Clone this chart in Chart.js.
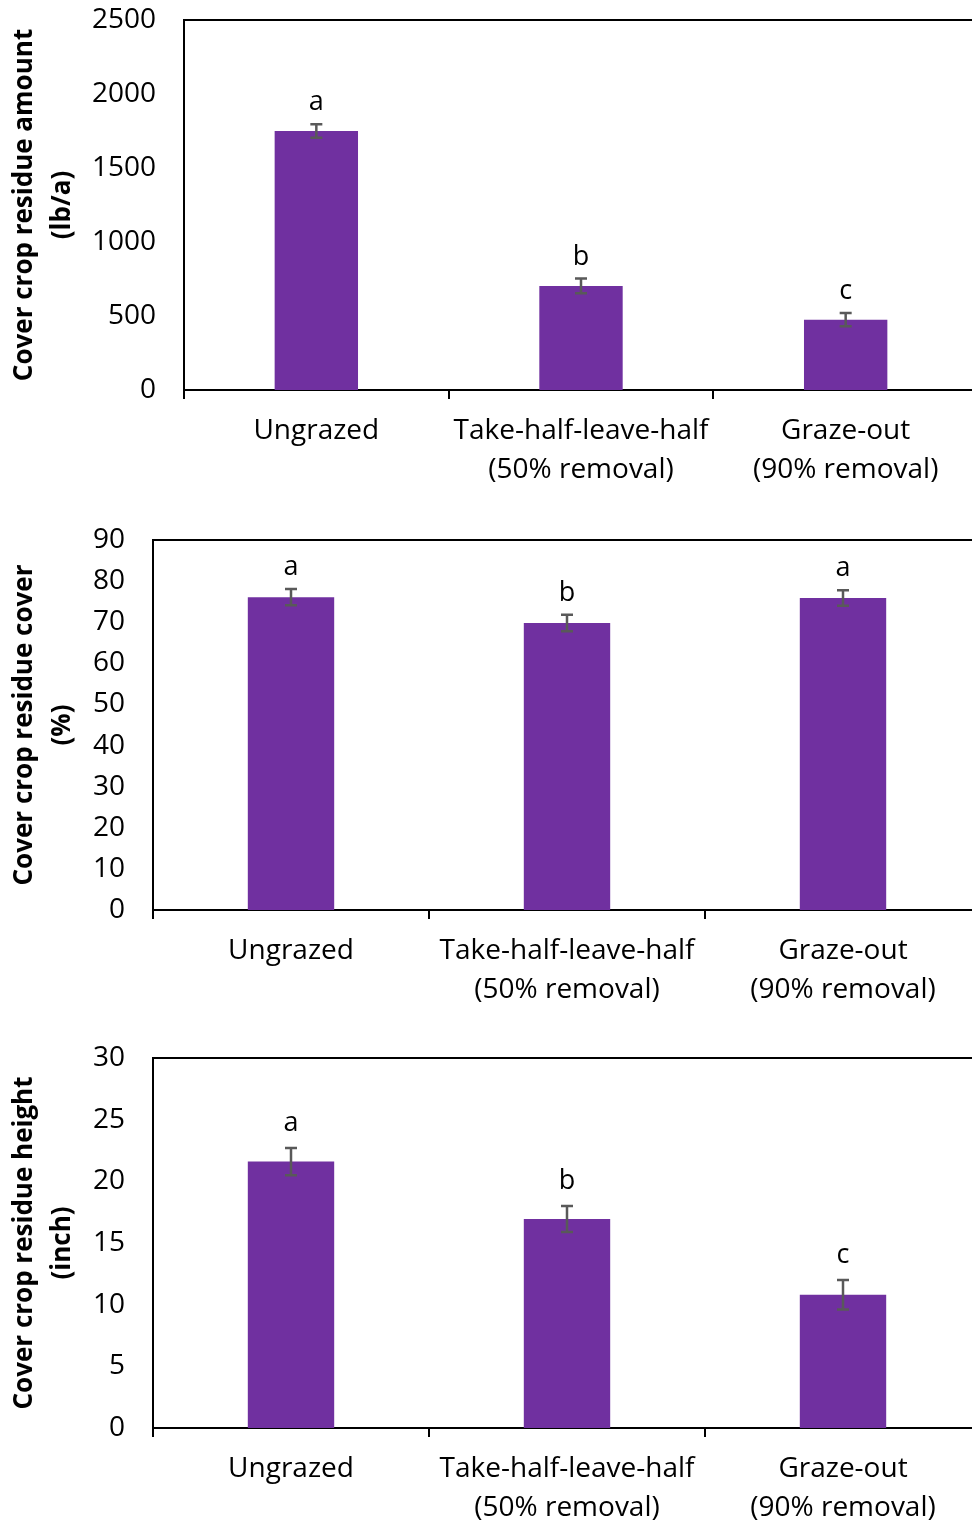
<!DOCTYPE html>
<html><head><meta charset="utf-8">
<script src="https://cdn.jsdelivr.net/npm/chart.js@4/dist/chart.umd.min.js"></script>
<style>
html,body{margin:0;padding:0;background:#fff;overflow:hidden;width:972px;height:1526px;position:relative;}
.box{position:absolute;left:0;width:1000px;}
</style></head><body>
<div class="box" style="top:0;height:510px"><canvas id="c1"></canvas></div>
<div class="box" style="top:520px;height:505px"><canvas id="c2"></canvas></div>
<div class="box" style="top:1038px;height:500px"><canvas id="c3"></canvas></div>
<script>
// ---------- data ----------
const categories = ["Ungrazed", ["Take-half-leave-half", "(50% removal)"], ["Graze-out", "(90% removal)"]];

const amountTitle = ["Cover crop residue amount", "(lb/a)"];
const amountValues = [1750, 703, 475];
const amountErrors = [45, 50, 45];
const amountLetters = ["a", "b", "c"];
const amountTicks = [0, 500, 1000, 1500, 2000, 2500];

const coverTitle = ["Cover crop residue cover", "(%)"];
const coverValues = [76.1, 69.8, 75.9];
const coverErrors = [2.0, 2.0, 1.9];
const coverLetters = ["a", "b", "a"];
const coverTicks = [0, 10, 20, 30, 40, 50, 60, 70, 80, 90];

const heightTitle = ["Cover crop residue height", "(inch)"];
const heightValues = [21.6, 16.95, 10.8];
const heightErrors = [1.1, 1.05, 1.2];
const heightLetters = ["a", "b", "c"];
const heightTicks = [0, 5, 10, 15, 20, 25, 30];

// ---------- style ----------
const FONT = "'Open Sans'";
const BAR = "#7030A0";
const ERR = "#595959";

const annotPlugin = {
  id: "annot",
  afterDatasetsDraw(chart, args, opts) {
    const ctx = chart.ctx;
    const xs = chart.scales.x, ys = chart.scales.y;
    const vals = chart.data.datasets[0].data;
    ctx.save();
    vals.forEach((v, i) => {
      const x = xs.getPixelForValue(i);
      const e = opts.errors[i];
      const yt = ys.getPixelForValue(v + e);
      const yb = ys.getPixelForValue(v - e);
      ctx.strokeStyle = ERR;
      ctx.lineWidth = 2.5;
      ctx.beginPath();
      ctx.moveTo(x, yt); ctx.lineTo(x, yb);
      ctx.moveTo(x - 6, yt); ctx.lineTo(x + 6, yt);
      ctx.moveTo(x - 6, yb); ctx.lineTo(x + 6, yb);
      ctx.stroke();
      ctx.fillStyle = "#000";
      ctx.font = "27px " + FONT;
      ctx.textAlign = "center";
      ctx.textBaseline = "alphabetic";
      ctx.fillText(opts.letters[i], x, yt - opts.gap);
    });
    // frame top and right
    const a = chart.chartArea;
    ctx.strokeStyle = "#000";
    ctx.lineWidth = 2;
    ctx.beginPath();
    ctx.moveTo(a.left, a.top); ctx.lineTo(a.right, a.top); ctx.lineTo(a.right, a.bottom);
    ctx.stroke();
    ctx.restore();
  }
};

function makeChart(id, title, values, errors, letters, ticks, cfg) {
  return new Chart(document.getElementById(id), {
    type: "bar",
    data: {
      labels: categories,
      datasets: [{ data: values, backgroundColor: BAR, borderWidth: 0,
        categoryPercentage: 1, barPercentage: cfg.barPct }]
    },
    options: {
      responsive: true, maintainAspectRatio: false, animation: false,
      layout: { padding: { top: cfg.top, right: cfg.right, left: 0, bottom: 0 } },
      plugins: { legend: { display: false }, tooltip: { enabled: false },
        annot: { errors: errors, letters: letters, gap: cfg.gap } },
      scales: {
        x: {
          offset: true,
          grid: { display: true, drawOnChartArea: false, drawTicks: true, tickLength: 9,
            offset: true, color: "#000", lineWidth: 2 },
          border: { display: true, color: "#000", width: 2 },
          ticks: { color: "#000", font: { family: FONT, size: 28, lineHeight: 1.4 },
            padding: 12, maxRotation: 0, minRotation: 0, autoSkip: false },
          afterFit: s => { s.height = cfg.xh; s.paddingLeft = 0; s.paddingRight = 0; }
        },
        y: {
          min: ticks[0], max: ticks[ticks.length - 1],
          afterBuildTicks: s => { s.ticks = ticks.map(v => ({ value: v })); },
          grid: { display: false, drawTicks: false },
          border: { display: true, color: "#000", width: 2 },
          ticks: { color: "#000", font: { family: FONT, size: 28 }, padding: 28,
            callback: v => String(v) },
          title: { display: true, text: title, color: "#000",
            font: { family: FONT, size: 26, weight: "bold", lineHeight: 1.45 },
            padding: { top: 6, bottom: 0 } },
          afterFit: s => { s.width = cfg.yw; s.paddingTop = 0; s.paddingBottom = 0; }
        }
      }
    },
    plugins: [annotPlugin]
  });
}

makeChart("c1", amountTitle, amountValues, amountErrors, amountLetters, amountTicks,
  { top: 20, right: 22, xh: 120, yw: 184, barPct: 0.315, gap: 14 });
makeChart("c2", coverTitle, coverValues, coverErrors, coverLetters, coverTicks,
  { top: 20, right: 19, xh: 115, yw: 153, barPct: 0.313, gap: 14 });
makeChart("c3", heightTitle, heightValues, heightErrors, heightLetters, heightTicks,
  { top: 20, right: 19, xh: 110, yw: 153, barPct: 0.313, gap: 17 });
</script>
</body></html>
